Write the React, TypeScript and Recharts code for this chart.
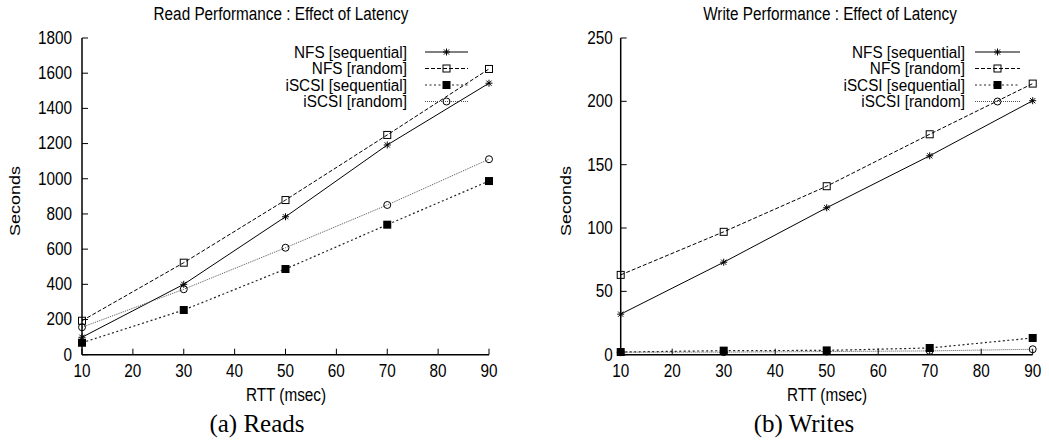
import React from 'react';
import { LineChart, Line, XAxis, YAxis, Legend } from 'recharts';

const rtt = [10, 30, 50, 70, 90];
const xTicks = [10, 20, 30, 40, 50, 60, 70, 80, 90];

const readNfsSeq = [99, 400, 784, 1192, 1543];
const readNfsRand = [193, 523, 879, 1249, 1624];
const readIscsiSeq = [68, 254, 487, 739, 987];
const readIscsiRand = [156, 372, 608, 851, 1111];
const readTicks = [0, 200, 400, 600, 800, 1000, 1200, 1400, 1600, 1800];

const writeNfsSeq = [32, 73, 116, 157, 200.5];
const writeNfsRand = [63, 97, 133, 174, 214];
const writeIscsiSeq = [2.1, 3.2, 3.4, 5.3, 13.2];
const writeIscsiRand = [2, 2, 2.5, 3, 4.3];
const writeTicks = [0, 50, 100, 150, 200, 250];

const seriesNames = ['NFS [sequential]', 'NFS [random]', 'iSCSI [sequential]', 'iSCSI [random]'];

const SANS = '"Liberation Sans", Arial, Helvetica, sans-serif';
const SQUEEZE = 0.85;

const readRows = rtt.map((x, i) => ({
  rtt: x,
  nfsSeq: readNfsSeq[i],
  nfsRand: readNfsRand[i],
  iscsiSeq: readIscsiSeq[i],
  iscsiRand: readIscsiRand[i],
}));

const writeRows = rtt.map((x, i) => ({
  rtt: x,
  nfsSeq: writeNfsSeq[i],
  nfsRand: writeNfsRand[i],
  iscsiSeq: writeIscsiSeq[i],
  iscsiRand: writeIscsiRand[i],
}));

// markers
const Star = ({ cx, cy }: any) => (
  <g stroke="#000" strokeWidth={1}>
    <line x1={cx - 3.5} y1={cy} x2={cx + 3.5} y2={cy} />
    <line x1={cx} y1={cy - 3.5} x2={cx} y2={cy + 3.5} />
    <line x1={cx - 2.6} y1={cy - 2.6} x2={cx + 2.6} y2={cy + 2.6} />
    <line x1={cx - 2.6} y1={cy + 2.6} x2={cx + 2.6} y2={cy - 2.6} />
  </g>
);
const OpenSquare = ({ cx, cy }: any) => (
  <rect x={cx - 3.5} y={cy - 3.5} width={7} height={7} fill="none" stroke="#000" strokeWidth={1} />
);
const FilledSquare = ({ cx, cy }: any) => (
  <rect x={cx - 4} y={cy - 4} width={8} height={8} fill="#000" />
);
const OpenCircle = ({ cx, cy }: any) => (
  <circle cx={cx} cy={cy} r={3.5} fill="none" stroke="#000" strokeWidth={1} />
);

const series = [
  { key: 'nfsSeq', stroke: '#000', dash: undefined, width: 1, Marker: Star },
  { key: 'nfsRand', stroke: '#000', dash: '4 2', width: 1, Marker: OpenSquare },
  { key: 'iscsiSeq', stroke: '#222', dash: '2 2.5', width: 1.2, Marker: FilledSquare },
  { key: 'iscsiRand', stroke: '#555', dash: '1 1', width: 1, Marker: OpenCircle },
];

const XTick = ({ x, y, payload }: any) => (
  <text
    transform={`translate(${x},${y}) scale(${SQUEEZE},1)`}
    textAnchor="middle"
    dominantBaseline="central"
    fontSize={18}
    fontFamily={SANS}
    fill="#000"
  >
    {payload.value}
  </text>
);

const YTick = ({ x, y, payload }: any) => (
  <text
    transform={`translate(${x},${y}) scale(${SQUEEZE},1)`}
    textAnchor="end"
    dominantBaseline="central"
    fontSize={18}
    fontFamily={SANS}
    fill="#000"
  >
    {payload.value}
  </text>
);

const NoTick = () => <g />;

const rowY = [52, 68.5, 85, 101.5];

const makeLegend = (textRight: number, x1: number, x2: number, w: number) => () => (
  <svg width={w} height={120} style={{ display: 'block' }}>
    {series.map((s, i) => (
      <g key={s.key}>
        <text
          transform={`translate(${textRight},${rowY[i]}) scale(0.956,1)`}
          textAnchor="end"
          dominantBaseline="central"
          fontSize={16}
          fontFamily={SANS}
          fill="#000"
        >
          {seriesNames[i]}
        </text>
        <line x1={x1} x2={x2} y1={rowY[i]} y2={rowY[i]} stroke={s.stroke} strokeWidth={s.width} strokeDasharray={s.dash} />
        <s.Marker cx={(x1 + x2) / 2} cy={rowY[i]} />
      </g>
    ))}
  </svg>
);

const Label = ({ x, y, text, size = 18, rotate = false, serif = false }: any) => (
  <div
    style={{
      position: 'absolute',
      left: x,
      top: y,
      transform: rotate
        ? `translate(-50%,-50%) rotate(-90deg) scale(1,${SQUEEZE})`
        : `translate(-50%,-50%) scale(${serif ? 1 : SQUEEZE},1)`,
      fontFamily: serif ? '"Liberation Serif", "Times New Roman", serif' : SANS,
      fontSize: size,
      whiteSpace: 'nowrap',
      lineHeight: 1,
      color: '#000',
    }}
  >
    {text}
  </div>
);

const Panel = ({ left, width, margin, rows, yTicks, yMax, yGap, legend }: any) => (
  <div style={{ position: 'absolute', left, top: 0, width, height: 440 }}>
    <LineChart width={width} height={440} data={rows} margin={margin}>
      <XAxis
        dataKey="rtt"
        type="number"
        domain={[10, 90]}
        ticks={xTicks}
        interval={0}
        height={30}
        tickSize={-6}
        tickMargin={22}
        tick={<XTick />}
        axisLine={{ stroke: '#000', strokeWidth: 1.5 }}
        tickLine={{ stroke: '#000' }}
      />
      <XAxis
        xAxisId="top"
        orientation="top"
        type="number"
        domain={[10, 90]}
        ticks={xTicks}
        interval={0}
        height={0}
        tickSize={-6}
        tick={NoTick}
        axisLine={{ stroke: '#000', strokeWidth: 1.5 }}
        tickLine={{ stroke: '#000' }}
      />
      <YAxis
        type="number"
        domain={[0, yMax]}
        ticks={yTicks}
        interval={0}
        width={60}
        tickSize={-6}
        tickMargin={yGap + 6}
        tick={<YTick />}
        axisLine={{ stroke: '#000', strokeWidth: 1.5 }}
        tickLine={{ stroke: '#000' }}
      />
      <YAxis
        yAxisId="right"
        orientation="right"
        type="number"
        domain={[0, yMax]}
        ticks={yTicks}
        interval={0}
        width={0}
        tickSize={-6}
        tick={NoTick}
        axisLine={{ stroke: '#000', strokeWidth: 1.5 }}
        tickLine={{ stroke: '#000' }}
      />
      <Legend
        layout="vertical"
        align="center"
        verticalAlign="middle"
        content={legend}
        wrapperStyle={{ position: 'absolute', left: 0, top: 0, width, height: 120 }}
      />
      {series.map((s) => (
        <Line
          key={s.key}
          dataKey={s.key}
          type="linear"
          stroke={s.stroke}
          strokeWidth={s.width}
          strokeDasharray={s.dash}
          isAnimationActive={false}
          dot={(p: any) => <s.Marker key={`${s.key}-${p.index}`} cx={p.cx} cy={p.cy} />}
          activeDot={false}
        />
      ))}
    </LineChart>
  </div>
);

export default function App() {
  return (
    <div style={{ position: 'absolute', left: 0, top: 0, width: 1049, height: 440, background: '#fff', overflow: 'hidden' }}>
      <Panel
        left={0}
        width={520}
        margin={{ top: 38, right: 31, bottom: 55.3, left: 22 }}
        rows={readRows}
        yTicks={readTicks}
        yMax={1800}
        yGap={10}
        legend={makeLegend(407, 425, 468, 520)}
      />
      <Panel
        left={520}
        width={529}
        margin={{ top: 38, right: 16.3, bottom: 55.3, left: 40.7 }}
        rows={writeRows}
        yTicks={writeTicks}
        yMax={250}
        yGap={8}
        legend={makeLegend(445, 455, 500, 529)}
      />
      <Label x={281} y={14} text="Read Performance : Effect of Latency" />
      <Label x={15} y={201} text="Seconds" rotate />
      <Label x={286} y={395} text="RTT (msec)" />
      <Label x={257} y={423} text="(a) Reads" size={25} serif />
      <Label x={830} y={14} text="Write Performance : Effect of Latency" />
      <Label x={566} y={201} text="Seconds" rotate />
      <Label x={827} y={395} text="RTT (msec)" />
      <Label x={804} y={423} text="(b) Writes" size={25} serif />
    </div>
  );
}
